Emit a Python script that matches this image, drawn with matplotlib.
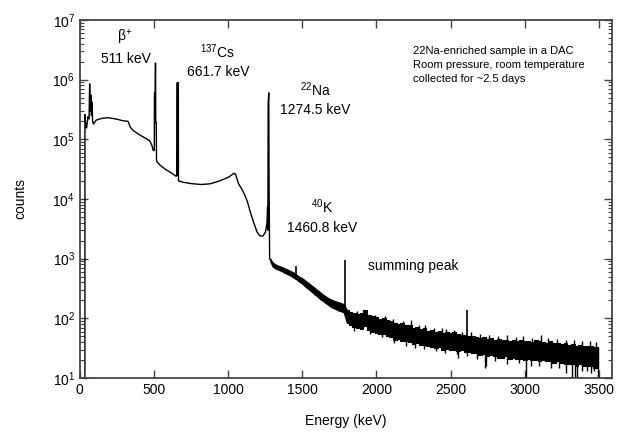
import numpy as np
import matplotlib.pyplot as plt
from matplotlib.ticker import LogLocator, NullFormatter, MultipleLocator

plt.rcParams['font.family'] = ['Liberation Sans', 'DejaVu Sans']
plt.rcParams['mathtext.fontset'] = 'custom'
plt.rcParams['mathtext.rm'] = 'Liberation Sans'
plt.rcParams['mathtext.it'] = 'Liberation Sans'

# low-energy part of the spectrum (keV, counts), traced as one line
energy = [34, 34, 40, 45, 55, 62, 66, 70, 74, 78, 82, 86, 92, 110, 150, 190, 240, 290, 325,
          340, 360, 400, 440, 470, 485, 495, 502, 503, 508, 510, 511, 512, 515, 517, 520,
          540, 580, 620, 650, 655, 657, 658, 664, 665, 668, 700, 760, 820, 880, 940,
          1000, 1040, 1050, 1070, 1090, 1110, 1130, 1150, 1170, 1195, 1215, 1235, 1252,
          1262, 1266, 1268, 1270, 1274, 1276, 1280, 1285]
counts = [10, 2.6e5, 1.7e5, 1.55e5, 2.4e5, 2.2e5, 8.5e5, 3e5, 5.5e5, 2.5e5, 4.2e5, 2.0e5,
          1.8e5, 2.1e5, 2.25e5, 2.3e5, 2.2e5, 2.05e5, 2.0e5,
          1.6e5, 1.4e5, 1.2e5, 1.05e5, 9.5e4, 8e4, 6.5e4, 6.5e4, 6e5, 6e5, 1.9e6, 6e5,
          1.9e5, 1.9e5, 4.5e4, 4.2e4,
          3.7e4, 3.1e4, 2.7e4, 2.4e4, 2.5e4, 8.9e5, 2.5e4, 8.9e5, 2.0e4, 2.0e4, 1.9e4,
          1.8e4, 1.75e4, 1.8e4, 2.0e4,
          2.3e4, 2.7e4, 2.6e4, 1.8e4, 1.5e4, 1.2e4, 9e3, 6e3, 4.2e3, 2.8e3, 2.4e3, 2.4e3, 2.8e3,
          4e3, 7.4e3, 3e3, 4e5, 6e5, 2e4, 1.0e3, 950]

# between the Na line and the summing peak the spectrum is a thin noisy trace
tail_e = [1285, 1300, 1320, 1340, 1360, 1380, 1400, 1420, 1440, 1460, 1480, 1500, 1520,
          1540, 1560, 1580, 1600, 1620, 1640, 1660, 1680, 1700, 1720, 1740, 1760, 1780,
          1800]
tail_lo = [880, 740, 680, 650, 620, 580, 550, 520, 480, 450, 410, 380, 340,
           310, 285, 255, 235, 210, 195, 178, 165, 152, 145, 136, 132, 125, 85]
tail_hi = [1000, 860, 800, 760, 730, 690, 660, 620, 590, 540, 500, 470, 430,
           395, 360, 330, 300, 275, 250, 232, 215, 205, 195, 188, 182, 172, 140]

# above the summing peak: lower / upper edge of the noise band
band_e = [1800, 1825, 1850, 1875, 1900, 1925, 1950, 1975, 2000, 2025, 2050, 2075,
          2100, 2125, 2150, 2175, 2200, 2225, 2250, 2275, 2300, 2325, 2350, 2375, 2400,
          2425, 2450, 2475, 2500, 2525, 2550, 2575, 2600, 2625, 2650, 2675, 2700, 2725,
          2750, 2775, 2800, 2825, 2850, 2875, 2900, 2925, 2950, 2975, 3000, 3025, 3050,
          3075, 3100, 3125, 3150, 3175, 3200, 3225, 3250, 3275, 3300, 3325, 3350, 3375,
          3400, 3425, 3450, 3475, 3495]
band_lo = [85, 78, 72, 70, 66, 74, 64, 60, 57, 54, 55, 50,
           48, 44, 45, 42, 41, 40, 37, 38, 36, 36, 34, 33, 32,
           33, 30, 31, 30, 29, 28, 29, 27, 27, 26, 26, 24, 25,
           23, 24, 23, 22, 22, 23, 21, 22, 21, 21, 20, 21, 20,
           20, 19, 20, 19, 19, 18, 19, 18, 17, 17, 17, 16, 17,
           16, 16, 16, 15, 15]
band_hi = [140, 128, 122, 118, 125, 138, 115, 108, 104, 98, 100, 92,
           90, 84, 80, 82, 76, 78, 70, 72, 66, 70, 62, 64, 60,
           62, 57, 59, 56, 58, 54, 53, 52, 50, 51, 48, 47, 48,
           45, 46, 44, 45, 43, 44, 42, 44, 41, 43, 41, 42, 40,
           43, 42, 40, 39, 41, 38, 39, 37, 38, 36, 37, 35, 36,
           35, 34, 35, 33, 33]

# single-channel excursions out of the band
spike_e = [1850, 1960, 2040, 2120, 2200, 2263, 2320, 2400, 2460, 2545, 2552, 2610, 2680,
           2730, 2737, 2800, 2880, 2960, 3007, 3040, 3100, 3180, 3230, 3277, 3322, 3340,
           3356, 3390, 3420, 3446, 3470,
           1870, 1926, 1990, 2060, 2110, 2180, 2230, 2290, 2330, 2390, 2440, 2470, 2520,
           2580, 2640, 2700, 2760, 2820, 2880, 2940, 2990, 3050, 3108, 3160, 3220, 3280,
           3330, 3390, 3440, 3480]
spike_tip = [62, 55, 48, 38, 35, 32, 31, 28, 26, 25, 22, 23, 21,
             15, 16, 19, 17, 18, 10, 16, 16, 15, 15, 12, 10, 10,
             10, 13, 13, 12, 13,
             135, 140, 112, 108, 98, 90, 92, 78, 78, 70, 68, 66, 64,
             60, 58, 54, 52, 51, 52, 49, 50, 47, 52, 46, 45, 44,
             43, 42, 41, 40]

# 40K, summing peak and 2614 keV line
peak_e = [1460, 1785, 2614]
peak_base = [500, 150, 40]
peak_top = [740, 950, 140]

fig = plt.figure(figsize=(6.24, 4.34), dpi=100)
ax = fig.add_axes([0.128, 0.129, 0.853, 0.825])

mid = np.sqrt(np.array(band_lo) * np.array(band_hi))
ax.plot(energy, counts, color='black', lw=1.0)
ax.fill_between(tail_e, tail_lo, tail_hi, color='black', lw=0.8, edgecolor='black')
ax.fill_between(band_e, band_lo, band_hi, step='mid', color='black', lw=0.8,
                edgecolor='black')
ax.vlines(spike_e, np.interp(spike_e, band_e, mid), spike_tip, color='black', lw=1.0)
ax.vlines(peak_e, peak_base, peak_top, color='black', lw=1.2)
ax.vlines([band_e[-1]], [10], [band_hi[-1]], color='black', lw=1.0)

ax.set_yscale('log')
ax.set_xlim(0, 3590)
ax.set_ylim(10, 1e7)
ax.xaxis.set_major_locator(MultipleLocator(500))
ax.yaxis.set_major_locator(LogLocator(base=10, numticks=10))
ax.yaxis.set_minor_locator(LogLocator(base=10, subs=np.arange(2, 10), numticks=20))
ax.yaxis.set_minor_formatter(NullFormatter())
ax.tick_params(which='both', direction='in', top=True, right=True, color='#444444',
               labelsize=10, labelcolor='black')
ax.tick_params(which='major', length=6, width=1)
ax.tick_params(which='minor', length=3, width=0.8)
ax.tick_params(axis='x', which='minor', top=False, bottom=False)
for s in ax.spines.values():
    s.set_color('#444444')
    s.set_linewidth(1.3)

ax.set_xlabel('Energy (keV)', fontsize=10, labelpad=12)
ax.set_ylabel('counts', fontsize=10, labelpad=18)

# peak labels
ax.text(304, 5.0e6, 'β$^{+}$', fontsize=10, ha='center', va='center')
ax.text(311, 2.2e6, '511 keV', fontsize=10, ha='center', va='center')
ax.text(926, 2.9e6, '$^{137}$Cs', fontsize=10, ha='center', va='center')
ax.text(932, 1.35e6, '661.7 keV', fontsize=10, ha='center', va='center')
ax.text(1588, 6.7e5, '$^{22}$Na', fontsize=10, ha='center', va='center')
ax.text(1588, 3.1e5, '1274.5 keV', fontsize=10, ha='center', va='center')
ax.text(1635, 7.4e3, '$^{40}$K', fontsize=10, ha='center', va='center')
ax.text(1635, 3.3e3, '1460.8 keV', fontsize=10, ha='center', va='center')
ax.text(2250, 7.6e2, 'summing peak', fontsize=10, ha='center', va='center')

fig.text(0.662, 0.893, '22Na-enriched sample in a DAC\nRoom pressure, room temperature\n'
         'collected for ~2.5 days', fontsize=8, ha='left', va='top', linespacing=1.45)

fig.savefig('out.png', dpi=100)
